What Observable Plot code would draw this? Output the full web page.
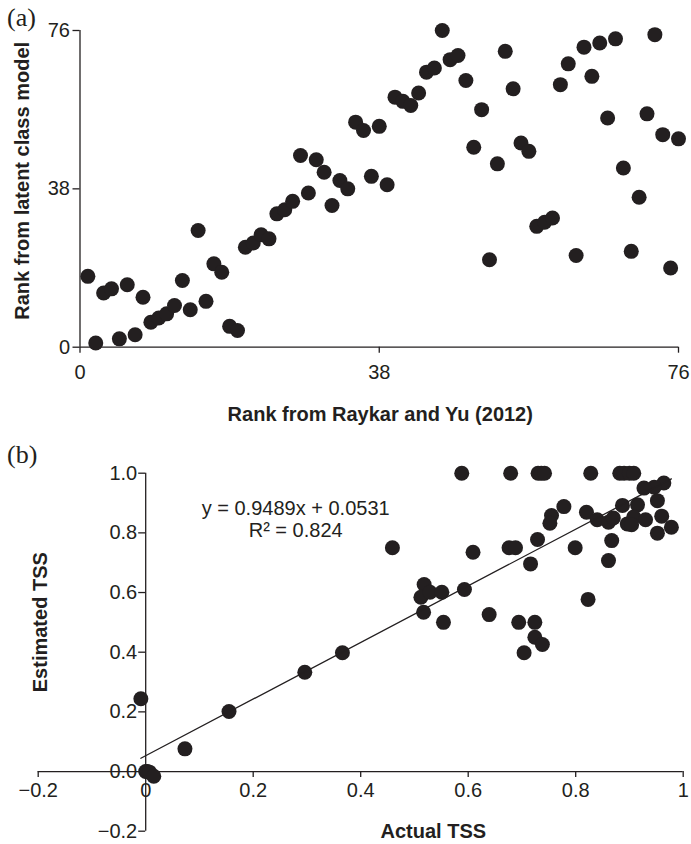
<!DOCTYPE html>
<html><head><meta charset="utf-8">
<script src="https://cdn.jsdelivr.net/npm/d3@7"></script>
<script src="https://cdn.jsdelivr.net/npm/@observablehq/plot@0.6"></script>
<style>
body{margin:0;background:#fff;width:691px;height:844px;position:relative;overflow:hidden;font-family:"Liberation Sans",Arial,sans-serif;}
.panel{position:absolute;left:0;}
.tag{position:absolute;left:7px;font-family:"Liberation Serif","Times New Roman",serif;font-size:26px;line-height:26px;color:#231f20;}
</style></head><body>
<div id="a" class="panel" style="top:0"></div>
<div id="b" class="panel" style="top:440px"></div>
<div class="tag" style="top:5px">(a)</div>
<div class="tag" style="top:442px">(b)</div>
<script>
// ---------- Panel (a) data ----------
const rankRaykar = [1,2,3,4,5,6,7,8,9,10,11,12,13,14,15,16,17,18,19,20,21,22,23,24,25,26,27,28,29,30,31,32,33,34,35,36,37,38,39,40,41,42,43,44,45,46,47,48,49,50,51,52,53,54,55,56,57,58,59,60,61,62,63,64,65,66,67,68,69,70,71,72,73,74,75,76];
const rankLatent = [17,1,13,14,2,15,3,12,6,7,8,10,16,9,28,11,20,18,5,4,24,25,27,26,32,33,35,46,37,45,42,34,40,38,54,52,41,53,39,60,59,58,61,66,67,76,69,70,64,48,57,21,44,71,62,49,47,29,30,31,63,68,22,72,65,73,55,74,43,23,36,56,75,51,19,50];
const ticksA = [0, 38, 76];
const xLabelA = "Rank from Raykar and Yu (2012)";
const yLabelA = "Rank from latent class model";

// ---------- Panel (b) data ----------
const actualTSS = [
  0.588,0.679,0.730,0.736,0.742,0.828,0.882,0.890,0.900,0.908,
  0.964,0.946,0.927,0.952,0.778,0.887,0.915,0.820,0.755,0.752,
  0.960,0.840,0.861,0.870,0.896,0.908,0.930,0.978,0.952,0.904,
  0.867,0.861,0.729,0.676,0.688,0.799,0.716,0.459,0.609,
  0.518,0.512,0.529,0.551,0.593,0.517,0.554,0.639,0.694,0.724,
  0.823,0.724,0.738,0.704,
  0.366,0.296,0.155,0.073,-0.009,0.000,0.003,0.007,0.015
];
const estimatedTSS = [
  1.000,1.000,1.000,1.000,1.000,1.000,1.000,1.000,1.000,1.000,
  0.967,0.953,0.950,0.908,0.888,0.892,0.894,0.869,0.858,0.832,
  0.856,0.844,0.836,0.850,0.830,0.853,0.844,0.819,0.799,0.827,
  0.774,0.707,0.778,0.750,0.750,0.750,0.696,0.750,0.735,
  0.627,0.584,0.601,0.601,0.610,0.534,0.500,0.526,0.500,0.500,
  0.577,0.450,0.426,0.398,
  0.398,0.333,0.201,0.076,0.244,0.000,0.000,-0.002,-0.016
];
const xTicksB = [-0.2, 0, 0.2, 0.4, 0.6, 0.8, 1];
const xTickLabelsB = ["\u22120.2","0","0.2","0.4","0.6","0.8","1"];
const yTicksB = [-0.2, 0, 0.2, 0.4, 0.6, 0.8, 1.0];
const yTickLabelsB = ["\u22120.2","0.0","0.2","0.4","0.6","0.8","1.0"];
const fitSlope = 0.9489, fitIntercept = 0.0531, fitR2 = 0.824;
const eqAnchor = {x: 0.279, y: 0.882, y2: 0.808};
const xLabelB = "Actual TSS";
const yLabelB = "Estimated TSS";

// ---------- drawing ----------
const ink = "#231f20";
const font = "'Liberation Sans', Arial, Helvetica, sans-serif";
const zero = () => 0;

const dataA = rankRaykar.map((x, i) => ({x, y: rankLatent[i]}));
const plotA = Plot.plot({
  width: 691, height: 440,
  marginLeft: 79.5, marginRight: 13, marginTop: 30, marginBottom: 93.3,
  x: {domain: [0, 76], axis: null},
  y: {domain: [0, 76], axis: null},
  style: {fontFamily: font, color: ink, background: "transparent", overflow: "visible"},
  marks: [
    Plot.ruleY([0], {stroke: ink, strokeWidth: 1.3}),
    Plot.ruleX([0], {stroke: ink, strokeWidth: 1.3}),
    Plot.ruleX(ticksA, {x: d => d, y1: zero, y2: zero, insetBottom: -6, stroke: ink, strokeWidth: 1.3}),
    Plot.ruleY(ticksA, {y: d => d, x1: zero, x2: zero, insetLeft: -7, stroke: ink, strokeWidth: 1.3}),
    Plot.text(ticksA, {x: d => d, y: zero, text: d => String(d), dy: 25.5, fontSize: 20, fill: ink}),
    Plot.text(ticksA, {x: zero, y: d => d, text: d => String(d), dx: -10, textAnchor: "end", fontSize: 20, fill: ink}),
    Plot.dot(dataA, {x: "x", y: "y", r: 7.5, fill: ink}),
    Plot.text([xLabelA], {text: d => d, frameAnchor: "bottom", textAnchor: "middle", lineAnchor: "middle", dx: 1, dy: 67, fontSize: 20, fontWeight: "bold", fill: ink}),
    Plot.text([yLabelA], {text: d => d, frameAnchor: "left", textAnchor: "middle", lineAnchor: "middle", rotate: -90, dx: -57, dy: -8, fontSize: 20, fontWeight: "bold", fill: ink})
  ]
});
document.getElementById("a").appendChild(plotA);

const dataB = actualTSS.map((x, i) => ({x, y: estimatedTSS[i]}));
const ext = d3.extent(actualTSS);
const fitLine = ext.map(x => ({x, y: fitSlope * x + fitIntercept}));
const eq1 = `y = ${fitSlope}x + ${fitIntercept}`;
const eq2 = `R\u00B2 = ${fitR2}`;

const plotB = Plot.plot({
  width: 691, height: 404,
  marginLeft: 37.7, marginRight: 8.3, marginTop: 32.7, marginBottom: 13.3,
  x: {domain: [-0.2, 1], axis: null},
  y: {domain: [-0.2, 1], axis: null},
  style: {fontFamily: font, color: ink, background: "transparent", overflow: "visible"},
  marks: [
    Plot.ruleY([0], {stroke: ink, strokeWidth: 1.3}),
    Plot.ruleX([0], {stroke: ink, strokeWidth: 1.3}),
    Plot.ruleX(xTicksB, {x: d => d, y1: zero, y2: zero, insetBottom: -6, stroke: ink, strokeWidth: 1.3}),
    Plot.ruleY(yTicksB, {y: d => d, x1: zero, x2: zero, insetLeft: -7, stroke: ink, strokeWidth: 1.3}),
    Plot.text(xTicksB, {x: d => d, y: zero, text: (d, i) => xTickLabelsB[i], dy: 19.5, fontSize: 20, fill: ink}),
    Plot.text(yTicksB, {x: zero, y: d => d, text: (d, i) => yTickLabelsB[i], dx: -8.5, textAnchor: "end", fontSize: 20, fill: ink}),
    Plot.dot(dataB, {x: "x", y: "y", r: 7.5, fill: ink}),
    Plot.line(fitLine, {x: "x", y: "y", stroke: ink, strokeWidth: 1.3}),
    Plot.text([eq1], {text: d => d, x: () => eqAnchor.x, y: () => eqAnchor.y, fontSize: 20, fill: ink}),
    Plot.text([eq2], {text: d => d, x: () => eqAnchor.x, y: () => eqAnchor.y2, fontSize: 20, fill: ink}),
    Plot.text([xLabelB], {text: d => d, frameAnchor: "bottom", textAnchor: "middle", lineAnchor: "middle", dx: 72.6, dy: 0, fontSize: 20, fontWeight: "bold", fill: ink}),
    Plot.text([yLabelB], {text: d => d, frameAnchor: "left", textAnchor: "middle", lineAnchor: "middle", rotate: -90, dx: 2, dy: -30, fontSize: 20, fontWeight: "bold", fill: ink})
  ]
});
document.getElementById("b").appendChild(plotB);
</script>
</body></html>
